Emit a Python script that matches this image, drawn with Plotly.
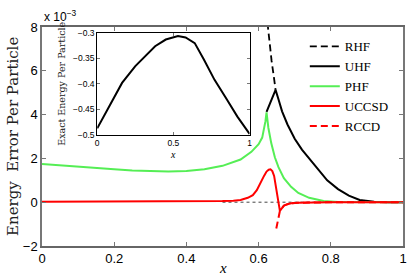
import plotly.graph_objects as go

# ---- data (energy error per particle, in units of 1e-3) ----
phf_x = [0.0, 0.05, 0.1, 0.15, 0.2, 0.25, 0.3, 0.35, 0.4, 0.45, 0.5, 0.55, 0.58, 0.6, 0.61, 0.615, 0.619, 0.622,
         0.627, 0.635, 0.645, 0.655, 0.67, 0.69, 0.71, 0.74, 0.78, 0.82, 0.9, 1.0]
phf_y = [1.75, 1.68, 1.62, 1.56, 1.5, 1.45, 1.42, 1.40, 1.42, 1.5, 1.66, 1.95, 2.3, 2.65, 2.95, 3.3, 3.7, 4.1,
         3.4, 2.7, 2.05, 1.6, 1.1, 0.7, 0.42, 0.2, 0.06, 0.01, 0.0, 0.0]

uhf_x = [0.622, 0.635, 0.647, 0.655, 0.665, 0.68, 0.70, 0.72, 0.74, 0.76, 0.79, 0.82, 0.85, 0.88, 0.92, 0.96, 1.0]
uhf_y = [4.12, 4.65, 5.13, 4.7, 4.15, 3.55, 2.9, 2.4, 2.0, 1.6, 1.0, 0.6, 0.3, 0.1, 0.02, 0.0, 0.0]

rhf_x = [0.618, 0.624, 0.63, 0.636, 0.642, 0.647]
rhf_y = [9.2, 8.2, 7.3, 6.45, 5.75, 5.13]

uccsd_x = [0.0, 0.1, 0.2, 0.3, 0.4, 0.45, 0.5, 0.53, 0.55, 0.57, 0.584, 0.595, 0.606, 0.615, 0.622, 0.628, 0.633,
           0.638, 0.643, 0.647, 0.652, 0.656, 0.659, 0.663, 0.67, 0.68, 0.69, 0.71, 0.75, 0.8, 0.9, 1.0]
uccsd_y = [0.02, 0.02, 0.02, 0.02, 0.03, 0.04, 0.05, 0.07, 0.1, 0.2, 0.32, 0.55, 0.93, 1.2, 1.4, 1.48, 1.5,
           1.42, 1.2, 0.85, 0.3, -0.1, -0.4, -0.3, -0.16, -0.09, -0.05, -0.03, -0.01, 0.0, 0.0, 0.0]

rccd_x = [0.649, 0.652, 0.656, 0.659, 0.663, 0.67, 0.68, 0.69, 0.71, 0.75, 0.8, 0.9, 1.0]
rccd_y = [-1.2, -0.95, -0.65, -0.4, -0.3, -0.16, -0.09, -0.05, -0.03, -0.01, 0.0, 0.0, 0.0]

zero_x = [0.5, 1.0]
zero_y = [0.0, 0.0]

# inset: exact energy per particle
ex_x = [0.0, 0.1, 0.163, 0.25, 0.38, 0.45, 0.53, 0.58, 0.64, 0.7, 0.77, 0.85, 0.92, 1.0]
ex_y = [-0.487, -0.432, -0.398, -0.365, -0.326, -0.313, -0.306, -0.309, -0.32, -0.352, -0.392, -0.43, -0.464, -0.498]

main_xticks = [0, 0.2, 0.4, 0.6, 0.8, 1]
main_xlabels = ["0", "0.2", "0.4", "0.6", "0.8", "1"]
main_yticks = [-2, 0, 2, 4, 6, 8]
main_ylabels = ["\u22122", "0", "2", "4", "6", "8"]
inset_xticks = [0, 0.5, 1]
inset_xlabels = ["0", "0.5", "1"]
inset_yticks = [-0.5, -0.45, -0.4, -0.35, -0.3]
inset_ylabels = ["\u22120.5", "\u22120.45", "\u22120.4", "\u22120.35", "\u22120.3"]

GREEN = "#55EE55"
SERIF = "Liberation Serif, DejaVu Serif, serif"
WIDE_SERIF = "DejaVu Serif, Liberation Serif, serif"
SANS = "Liberation Sans, Arial, sans-serif"

fig = go.Figure()
fig.add_trace(go.Scatter(x=zero_x, y=zero_y, mode="lines", line=dict(color="#444", width=1, dash="dot"),
                         showlegend=False, hoverinfo="skip"))
fig.add_trace(go.Scatter(x=rhf_x, y=rhf_y, mode="lines", name="RHF", legendrank=1,
                         line=dict(color="black", width=1.8, dash="7px,4px")))
fig.add_trace(go.Scatter(x=uhf_x, y=uhf_y, mode="lines", name="UHF", legendrank=2,
                         line=dict(color="black", width=2)))
fig.add_trace(go.Scatter(x=phf_x, y=phf_y, mode="lines", name="PHF", legendrank=3,
                         line=dict(color=GREEN, width=2)))
fig.add_trace(go.Scatter(x=rccd_x, y=rccd_y, mode="lines", name="RCCD", legendrank=5,
                         line=dict(color="red", width=2, dash="7px,4px")))
fig.add_trace(go.Scatter(x=uccsd_x, y=uccsd_y, mode="lines", name="UCCSD", legendrank=4,
                         line=dict(color="red", width=2)))

fig.add_trace(go.Scatter(x=ex_x, y=ex_y, mode="lines", xaxis="x2", yaxis="y2", showlegend=False,
                         line=dict(color="black", width=2)))

fig.update_layout(
    width=415, height=278,
    margin=dict(l=42, r=8, t=27, b=32),
    paper_bgcolor="white", plot_bgcolor="white",
    showlegend=True,
    legend=dict(x=0.728, y=0.98, xanchor="left", yanchor="top", bgcolor="rgba(0,0,0,0)",
                font=dict(family=SERIF, size=13, color="black"), tracegroupgap=0,
                itemwidth=30),
    xaxis=dict(domain=[0, 1], range=[0, 1], tickvals=main_xticks, ticktext=main_xlabels,
               showgrid=False, zeroline=False, ticks="inside", ticklen=4, tickcolor="#777",
               showline=True, linecolor="#666", linewidth=1.5, mirror="ticks",
               ticklabeloverflow="allow",
               tickfont=dict(family=SANS, size=13, color="black")),
    yaxis=dict(domain=[0, 1], range=[-2, 8], tickvals=main_yticks, ticktext=main_ylabels,
               showgrid=False, zeroline=False, ticks="inside", ticklen=4, tickcolor="#777",
               showline=True, linecolor="#777", linewidth=1.5, mirror="ticks",
               ticklabeloverflow="allow",
               tickfont=dict(family=SANS, size=13, color="black")),
    xaxis2=dict(domain=[0.153, 0.575], range=[0, 1], anchor="y2", tickvals=inset_xticks,
                ticktext=inset_xlabels, showgrid=False, zeroline=False, ticks="inside", ticklen=3,
                tickcolor="#777", showline=True, linecolor="black", linewidth=1, mirror="ticks",
                tickfont=dict(family=SANS, size=8.5, color="black")),
    yaxis2=dict(domain=[0.507, 0.973], range=[-0.5, -0.3], anchor="x2", tickvals=inset_yticks,
                ticktext=inset_ylabels,
                showgrid=False, zeroline=False, ticks="inside", ticklen=3, tickcolor="#777",
                showline=True, linecolor="black", linewidth=1, mirror="ticks",
                tickfont=dict(family=SANS, size=8.5, color="black")),
    annotations=[
        dict(text="x 10<sup>\u22123</sup>", x=0, y=1, xref="paper", yref="paper",
             xanchor="left", yanchor="bottom", showarrow=False, yshift=1,
             font=dict(family=SANS, size=12, color="black")),
        dict(text="Energy  Error Per Particle", x=-0.082, y=0.5, xref="paper", yref="paper",
             xanchor="center", yanchor="middle", textangle=-90, showarrow=False,
             font=dict(family=WIDE_SERIF, size=15, color="#222")),
        dict(text="<i>x</i>", x=0.5, y=-0.10, xref="paper", yref="paper",
             xanchor="center", yanchor="middle", showarrow=False,
             font=dict(family=SERIF, size=15, color="black")),
        dict(text="<i>x</i>", x=0.364, y=0.416, xref="paper", yref="paper",
             xanchor="center", yanchor="middle", showarrow=False,
             font=dict(family=SERIF, size=10, color="black")),
        dict(text="Exact Energy Per Particle", x=0.055, y=0.74, xref="paper", yref="paper",
             xanchor="center", yanchor="middle", textangle=-90, showarrow=False,
             font=dict(family=WIDE_SERIF, size=9.5, color="#222")),
    ],
)
fig.add_shape(type="rect", xref="paper", yref="paper", x0=0.153, x1=0.575, y0=0.507, y1=0.973,
              fillcolor="white", line=dict(width=0), layer="below")

fig.write_html("out.html", config={"displayModeBar": False},
               post_script="document.body.style.margin='0';document.body.style.padding='0';")
